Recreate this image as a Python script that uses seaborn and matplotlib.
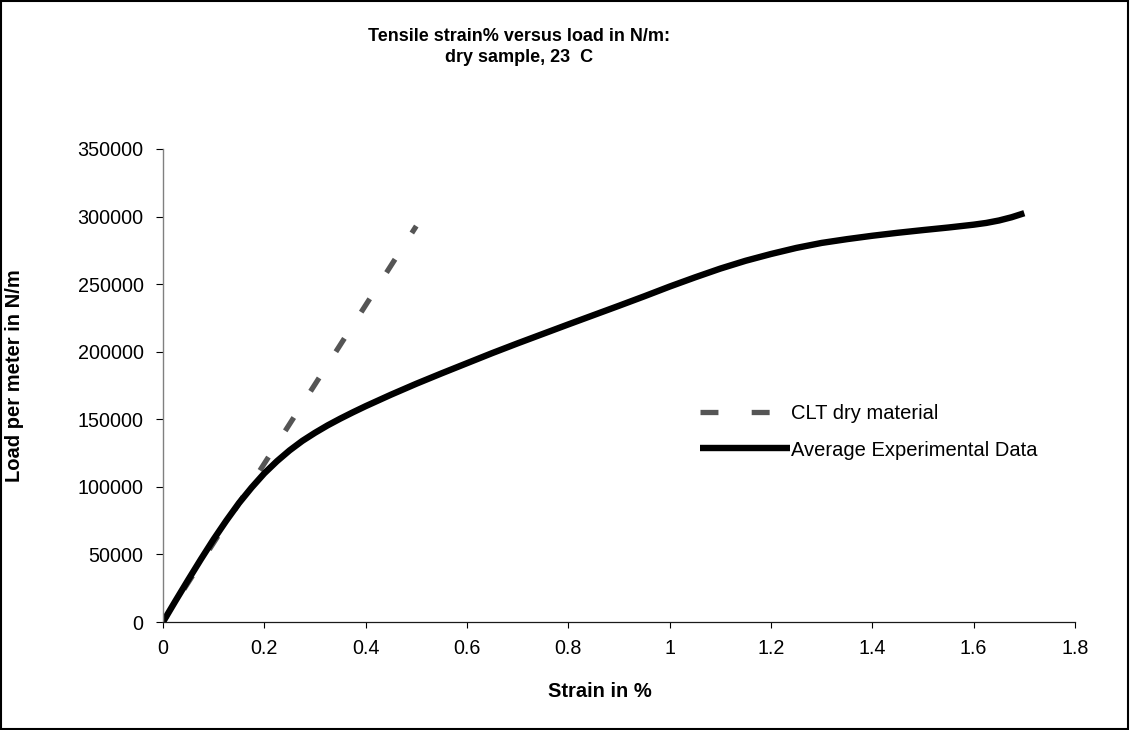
import matplotlib
matplotlib.use("Agg")
import matplotlib.pyplot as plt
import seaborn as sns
import pandas as pd
from matplotlib.patches import Rectangle
from matplotlib.ticker import FormatStrFormatter

# CLT prediction for the dry material (strain in %, load in N/m)
clt_strain = [0.0, 0.05, 0.10, 0.15, 0.20, 0.25, 0.30, 0.35, 0.40, 0.45, 0.50]
clt_load = [0, 29300, 58600, 87900, 117200, 146500, 175800, 205100, 234400, 263700, 293000]

# Averaged test curve
exp_strain = [0.0, 0.025, 0.05, 0.075, 0.10, 0.125, 0.15, 0.175, 0.20, 0.225,
              0.25, 0.275, 0.30, 0.325, 0.35, 0.375, 0.40, 0.45, 0.50, 0.55,
              0.60, 0.65, 0.70, 0.75, 0.80, 0.85, 0.90, 0.95, 1.00, 1.05,
              1.10, 1.15, 1.20, 1.25, 1.30, 1.35, 1.40, 1.45, 1.50, 1.55,
              1.60, 1.625, 1.65, 1.675, 1.70]
exp_load = [0, 15800, 31300, 46500, 61200, 75000, 88000, 99500, 110000, 119000,
            127000, 134000, 140000, 145500, 150500, 155200, 159700, 168200, 176300, 184000,
            191500, 199000, 206200, 213200, 220200, 227100, 234000, 241000, 248200, 255000,
            261500, 267300, 272300, 276800, 280500, 283300, 285800, 288000, 290000, 291900,
            294000, 295300, 297100, 299500, 302500]

series_labels = ["CLT dry material", "Average Experimental Data"]
x_ticks = [0, 0.2, 0.4, 0.6, 0.8, 1.0, 1.2, 1.4, 1.6, 1.8]
y_ticks = [0, 50000, 100000, 150000, 200000, 250000, 300000, 350000]

sns.set_style("white")
plt.rcParams["font.family"] = ["Liberation Sans", "DejaVu Sans"]
plt.rcParams["text.color"] = "black"
plt.rcParams["axes.labelcolor"] = "black"
plt.rcParams["xtick.color"] = "black"
plt.rcParams["ytick.color"] = "black"

fig = plt.figure(figsize=(11.3, 7.3), dpi=100)
ax = fig.add_axes([0.1442, 0.1479, 0.8071, 0.6480])

clt_df = pd.DataFrame({"strain": clt_strain, "load": clt_load})
exp_df = pd.DataFrame({"strain": exp_strain, "load": exp_load})

# dashes centred on each CLT point
sns.lineplot(data=clt_df, x="strain", y="load", ax=ax, color="#555555",
             linewidth=3.8, linestyle=(1.5, (3.0, 5.9)), dash_capstyle="butt",
             label=series_labels[0], sort=False, estimator=None)
sns.lineplot(data=exp_df, x="strain", y="load", ax=ax, color="black",
             linewidth=4.6, solid_capstyle="butt", solid_joinstyle="round",
             label=series_labels[1], sort=False, estimator=None)

ax.set_xlim(0, 1.8)
ax.set_ylim(0, 350000)
ax.set_xticks(x_ticks)
ax.set_yticks(y_ticks)
ax.xaxis.set_major_formatter(FormatStrFormatter("%g"))
ax.yaxis.set_major_formatter(FormatStrFormatter("%d"))

for side in ("top", "right"):
    ax.spines[side].set_visible(False)
ax.spines["left"].set_color("#808080")
ax.spines["left"].set_linewidth(1.0)
ax.spines["bottom"].set_color("#1a1a1a")
ax.spines["bottom"].set_linewidth(0.9)

ax.tick_params(axis="y", direction="out", length=5, width=0.8, color="black",
               labelsize=14.2, pad=9, left=True)
ax.tick_params(axis="x", direction="out", length=4.5, width=0.8, color="black",
               labelsize=14.2, pad=8, bottom=True)

ax.set_xlabel("Strain in %", fontsize=14.5, fontweight="bold")
ax.set_ylabel("Load per meter in N/m", fontsize=14.5, fontweight="bold")
ax.xaxis.set_label_coords(0.479, -0.126)
ax.yaxis.set_label_coords(-0.152, 0.52)

leg = ax.legend(loc="upper left", bbox_to_anchor=(0.6195, 0.446),
                bbox_transform=fig.transFigure, frameon=False, fontsize=14.5,
                handlelength=4.45, handletextpad=0.05, labelspacing=0.85,
                borderpad=0, borderaxespad=0)
leg.get_lines()[0].set_linestyle((0, (3.4, 6.3)))

fig.text(0.4597, 0.9438, "Tensile strain% versus load in N/m:", ha="center",
         va="baseline", fontsize=13, fontweight="bold")
fig.text(0.4597, 0.9151, "dry sample, 23  C", ha="center",
         va="baseline", fontsize=13, fontweight="bold")

fig.patches.append(Rectangle((0.001, 0.002), 0.997, 0.996, transform=fig.transFigure,
                             fill=False, edgecolor="black", linewidth=1.5))

fig.savefig("out.png", dpi=100, facecolor="white")
